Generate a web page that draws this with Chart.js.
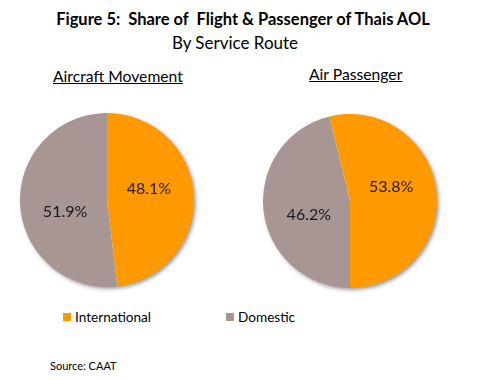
<!DOCTYPE html>
<html>
<head>
<meta charset="utf-8">
<script src="https://cdn.jsdelivr.net/npm/chart.js@4/dist/chart.umd.min.js"></script>
<style>
  html, body { margin: 0; padding: 0; background: #fff; }
  body { width: 489px; height: 380px; position: relative; overflow: hidden; font-family: Lato, "Liberation Sans", Arial, sans-serif; color: #000; }
  .abs { position: absolute; white-space: nowrap; }
  #title { left: 0; width: 486px; top: 9px; text-align: center; font-weight: bold; font-size: 16.5px; }
  #subtitle { left: 0; width: 470px; top: 32px; text-align: center; font-size: 17px; }
  .ptitle { font-size: 15.7px; text-decoration: underline; }
  #t1 { left: 53px; top: 67px; }
  #t2 { left: 309px; top: 65px; }
  #c1wrap { left: 12px; top: 105px; width: 190px; height: 190px; }
  #c2wrap { left: 255px; top: 106px; width: 190px; height: 190px; }
  .legend-item { font-size: 13.6px; display: flex; align-items: center; }
  .legend-item span.box { display: inline-block; width: 8px; height: 8px; margin-right: 4px; }
  #source { left: 50px; top: 359px; font-size: 11px; }
</style>
</head>
<body>
<div class="abs" id="title">Figure 5:&nbsp; Share of&nbsp; Flight &amp; Passenger of Thais AOL</div>
<div class="abs" id="subtitle">By Service Route</div>
<div class="abs ptitle" id="t1"></div>
<div class="abs ptitle" id="t2"></div>
<div class="abs" id="c1wrap"><canvas id="c1" width="190" height="190"></canvas></div>
<div class="abs" id="c2wrap"><canvas id="c2" width="190" height="190"></canvas></div>
<div id="legend"></div>
<div class="abs" id="source">Source: CAAT</div>
<script>
const categories = ["International", "Domestic"];
const chartTitles = ["Aircraft Movement", "Air Passenger"];
const aircraftMovement = [48.1, 51.9];
const airPassenger = [53.8, 46.2];
const colors = ["#FF9900", "#A89694"];

document.getElementById('t1').textContent = chartTitles[0];
document.getElementById('t2').textContent = chartTitles[1];

// legend
const legendPos = [63, 226];
const legend = document.getElementById('legend');
categories.forEach((c, i) => {
  const d = document.createElement('div');
  d.className = 'abs legend-item';
  d.style.left = legendPos[i] + 'px';
  d.style.top = '309px';
  d.innerHTML = '<span class="box" style="background:' + colors[i] + '"></span>' + c;
  legend.appendChild(d);
});

const shadowPlugin = {
  id: 'pieShadow',
  beforeDatasetsDraw(chart) {
    const arc = chart.getDatasetMeta(0).data[0];
    if (!arc) return;
    const ctx = chart.ctx;
    ctx.save();
    ctx.shadowColor = 'rgba(0,0,0,0.45)';
    ctx.shadowBlur = 4;
    ctx.shadowOffsetX = 2;
    ctx.shadowOffsetY = 2;
    ctx.fillStyle = '#fff';
    ctx.beginPath();
    ctx.arc(arc.x, arc.y, arc.outerRadius - 0.5, 0, Math.PI * 2);
    ctx.fill();
    ctx.restore();
  }
};

const LABEL_ANGLE_SHIFT = -12 * Math.PI / 180;
const labelPlugin = {
  id: 'pieLabels',
  afterDatasetsDraw(chart) {
    const ctx = chart.ctx;
    const meta = chart.getDatasetMeta(0);
    const data = chart.data.datasets[0].data;
    ctx.save();
    ctx.font = '16px Lato, "Liberation Sans", Arial, sans-serif';
    ctx.fillStyle = '#1a1a1a';
    ctx.textAlign = 'center';
    ctx.textBaseline = 'middle';
    meta.data.forEach((arc, i) => {
      const mid = (arc.startAngle + arc.endAngle) / 2 + LABEL_ANGLE_SHIFT;
      const r = arc.outerRadius * 0.5;
      const x = arc.x + Math.cos(mid) * r;
      const y = arc.y + Math.sin(mid) * r;
      ctx.fillText(data[i].toFixed(1) + '%', x, y);
    });
    ctx.restore();
  }
};

function makePie(id, values, rotation) {
  new Chart(document.getElementById(id), {
    type: 'pie',
    data: {
      labels: categories,
      datasets: [{ data: values, backgroundColor: colors, borderWidth: 0 }]
    },
    options: {
      responsive: false,
      animation: false,
      rotation: rotation,
      layout: { padding: 8 },
      plugins: { legend: { display: false }, tooltip: { enabled: false }, title: { display: false } }
    },
    plugins: [shadowPlugin, labelPlugin]
  });
}
// first slice angle: left starts at 12 o'clock; right so that Domestic begins at 6 o'clock
makePie('c1', aircraftMovement, 0);
makePie('c2', airPassenger, 180 - airPassenger[0] * 3.6);
</script>
</body>
</html>
